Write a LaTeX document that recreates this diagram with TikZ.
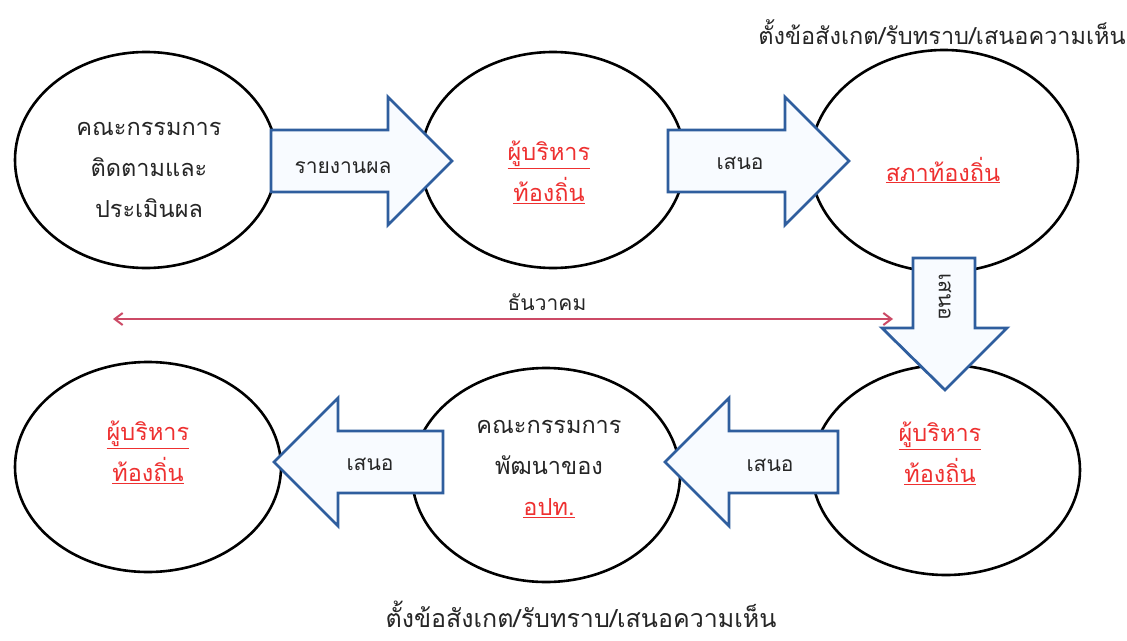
\documentclass[tikz,border=0pt]{standalone}
\usepackage{fontspec}
\newfontfamily\thai[Script=Thai]{Loma}
\usetikzlibrary{arrows.meta}
\definecolor{arrblue}{HTML}{2F5E9E}
\definecolor{arrfill}{HTML}{F8FBFF}
\definecolor{redtxt}{HTML}{EE3030}
\definecolor{redline}{HTML}{CC4A66}
\newcommand{\rtxt}[1]{\textcolor{redtxt}{\underline{#1}}}
\begin{document}
\begin{tikzpicture}[x=1pt,y=-1pt,
  circ/.style={draw=black,line width=2.6pt},
  blockarrow/.style={draw=arrblue,fill=arrfill,line width=2.8pt,line join=miter},
  txt/.style={font=\thai\fontsize{21}{30}\selectfont,text=black!85,align=center,inner sep=0pt},
  ctxt/.style={txt,font=\thai\fontsize{23.5}{41}\selectfont}]
\useasboundingbox (0,0) rectangle (1127,640);
\fill[white] (0,0) rectangle (1127,640);
% ellipses
\draw[circ] (146,160) ellipse [x radius=131,y radius=108];
\draw[circ] (553,160) ellipse [x radius=132,y radius=108];
\draw[circ] (944,161) ellipse [x radius=134,y radius=111];
\draw[circ] (148,467) ellipse [x radius=133,y radius=105];
\draw[circ] (546,475) ellipse [x radius=134,y radius=107];
\draw[circ] (946,470) ellipse [x radius=134,y radius=105];
% red double arrow
\coordinate (rl) at (113,319);
\coordinate (rr) at (893,319);
\draw[redline,line width=2pt,{Straight Barb[length=8pt,width=12pt]}-{Straight Barb[length=8pt,width=12pt]}] (rl) -- (rr);
\node[txt] (dec) at (547,302) {ธันวาคม};
% block arrows
\draw[blockarrow] (271,130) -- (388,130) -- (388,97) -- (452,161) -- (388,225) -- (388,192) -- (271,192) -- cycle;
\draw[blockarrow] (668,130) -- (785,130) -- (785,97) -- (849,161) -- (785,225) -- (785,192) -- (668,192) -- cycle;
\draw[blockarrow] (913,258) -- (975,258) -- (975,328) -- (1007,328) -- (945,390) -- (882,328) -- (913,328) -- cycle;
\draw[blockarrow] (838,431) -- (729,431) -- (729,398) -- (665,462) -- (729,526) -- (729,493) -- (838,493) -- cycle;
\draw[blockarrow] (443,431) -- (338,431) -- (338,398) -- (274,462) -- (338,526) -- (338,493) -- (443,493) -- cycle;
% arrow labels
\node[txt] (a1) at (343,168) {รายงานผล};
\node[txt] (a2) at (740,163) {เสนอ};
\node[txt,rotate=-90] (a3) at (945,297) {เสนอ};
\node[txt] (a4) at (770,465) {เสนอ};
\node[txt] (a5) at (370,464) {เสนอ};
% circle texts
\node[ctxt] (c1) at (149,170) {คณะกรรมการ\\ติดตามและ\\ประเมินผล};
\node[ctxt] (c2) at (549,172) {\rtxt{ผู้บริหาร}\\\rtxt{ท้องถิ่น}};
\node[ctxt] (c3) at (943,170) {\rtxt{สภาท้องถิ่น}};
\node[ctxt] (c4) at (940,453) {\rtxt{ผู้บริหาร}\\\rtxt{ท้องถิ่น}};
\node[ctxt] (c5) at (549,469) {คณะกรรมการ\\พัฒนาของ\\\rtxt{อปท.}};
\node[ctxt] (c6) at (148,452) {\rtxt{ผู้บริหาร}\\\rtxt{ท้องถิ่น}};
% side labels
\node[ctxt] (t1) at (942,32) {ตั้งข้อสังเกต/รับทราบ/เสนอความเห็น};
\node[txt,font=\thai\fontsize{25}{30}\selectfont] (t2) at (581,614) {ตั้งข้อสังเกต/รับทราบ/เสนอความเห็น};
\end{tikzpicture}
\end{document}
